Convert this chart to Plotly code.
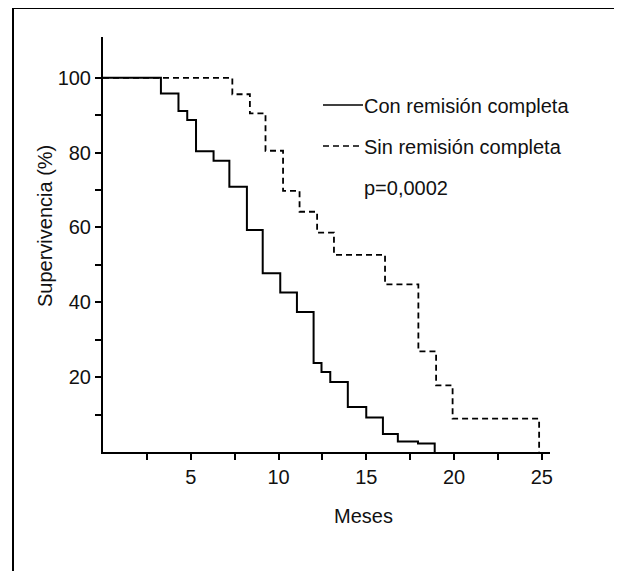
import plotly.graph_objects as go

# Kaplan-Meier steps (months, % survival)
con_meses = [0, 3.3, 4.3, 4.8, 5.3, 6.3, 7.2, 8.2, 9.1, 10.1, 11.05, 12.0, 12.45,
             12.95, 13.95, 15.0, 15.95, 16.8, 17.95, 18.9]
con_superv = [100, 95.8, 91.1, 88.7, 80.4, 77.8, 70.9, 59.3, 47.8, 42.6, 37.4, 23.8,
              21.4, 18.7, 12.0, 9.2, 4.8, 2.8, 2.3, 0]

sin_meses = [0, 7.37, 8.37, 9.26, 10.26, 11.2, 12.2, 13.16, 16.07, 17.97, 18.98,
             19.92, 24.85]
sin_superv = [100, 95.6, 90.5, 80.5, 69.8, 64.2, 58.6, 52.7, 44.8, 26.9, 17.8, 8.9, 0]

x_ticks = [2.5, 5, 7.5, 10, 12.5, 15, 17.5, 20, 22.5, 25]
x_labels = ["", "5", "", "10", "", "15", "", "20", "", "25"]
y_ticks = [10, 20, 30, 40, 50, 60, 70, 80, 90, 100]
y_labels = ["", "20", "", "40", "", "60", "", "80", "", "100"]

# the page body has an 8px margin, so the figure is shifted by that much
OFF = 8
W, H = 622 - OFF, 571 - OFF
L, R, T, B = 103 - OFF, 72, 37 - OFF, 119
FONT = "Liberation Sans, Arial, Helvetica, sans-serif"
FS = 20


def px(x):
    # x given in screen pixels of the reference
    return (x - OFF - L) / (W - L - R)


def py(y):
    return (H - B - (y - OFF)) / (H - B - T)


fig = go.Figure()
fig.add_trace(go.Scatter(x=con_meses, y=con_superv, mode="lines", line_shape="hv",
                         line=dict(color="black", width=2), name="Con remisión completa"))
fig.add_trace(go.Scatter(x=sin_meses, y=sin_superv, mode="lines", line_shape="hv",
                         line=dict(color="black", width=1.8, dash="6px,4px"),
                         name="Sin remisión completa"))

axis_style = dict(showline=True, linecolor="black", linewidth=2, showgrid=False,
                  zeroline=False, ticks="outside", ticklen=6, tickwidth=1.5,
                  tickcolor="black", tickfont=dict(size=FS, color="#111", family=FONT))
fig.update_xaxes(range=[0, 25.47], tickvals=x_ticks, ticktext=x_labels, **axis_style)
fig.update_yaxes(range=[0, 110.9], tickvals=y_ticks, ticktext=y_labels, **axis_style)

# hand-drawn legend like the original figure
fig.add_shape(type="line", xref="paper", yref="paper", x0=px(323), x1=px(363),
              y0=py(105), y1=py(105), line=dict(color="black", width=1.5))
fig.add_shape(type="line", xref="paper", yref="paper", x0=px(323), x1=px(363),
              y0=py(146), y1=py(146), line=dict(color="black", width=1.5, dash="6px,4px"))

texts = [("Con remisión completa", 106), ("Sin remisión completa", 147), ("p=0,0002", 188)]
for txt, ypos in texts:
    fig.add_annotation(text=txt, xref="paper", yref="paper", x=px(362), y=py(ypos),
                       xanchor="left", yanchor="middle", showarrow=False,
                       font=dict(size=FS, color="#111", family=FONT))

fig.add_annotation(text="Meses", xref="paper", yref="paper", x=px(363), y=py(516),
                   xanchor="center", yanchor="middle", showarrow=False,
                   font=dict(size=FS, color="#111", family=FONT))
fig.add_annotation(text="Supervivencia (%)", xref="paper", yref="paper", x=px(45), y=py(226),
                   xanchor="center", yanchor="middle", textangle=-90, showarrow=False,
                   font=dict(size=FS, color="#111", family=FONT))

# frame around the figure (open at the bottom edge of the scan)
fig.add_shape(type="path", xref="paper", yref="paper",
              path="M {} {} L {} {} L {} {} L {} {}".format(px(13), py(590), px(13), py(8),
                                                           px(618), py(8), px(618), py(590)),
              line=dict(color="black", width=2))

fig.update_layout(width=W, height=H, margin=dict(l=L, r=R, t=T, b=B),
                  plot_bgcolor="white", paper_bgcolor="white", showlegend=False,
                  font=dict(family=FONT))

fig.write_html("out.html")
